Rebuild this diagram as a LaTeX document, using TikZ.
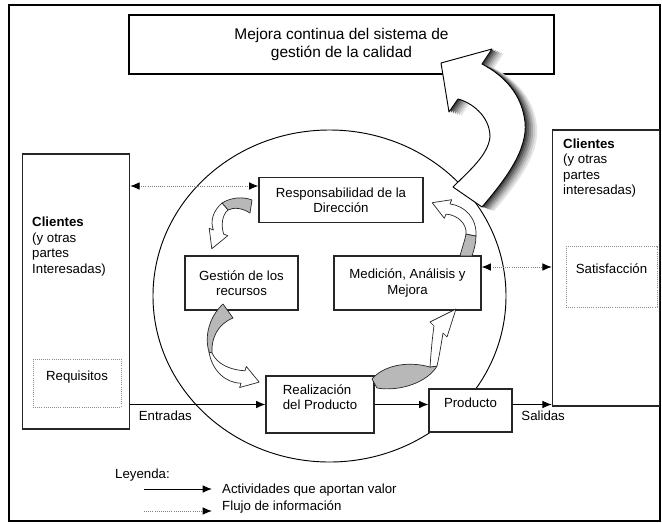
\documentclass[tikz,border=0pt]{standalone}
\usepackage{fontspec}
\setmainfont{Liberation Sans}
\usepackage{tikz}
\usetikzlibrary{arrows.meta}
\pgfdeclarelayer{edgelayer}
\pgfdeclarelayer{nodelayer}
\pgfsetlayers{edgelayer,nodelayer,main}
\tikzstyle{process}=[rectangle,fill=white,draw=black!85,line width=0.9pt,font=\fontsize{11.3}{13}\selectfont,align=center]
\tikzstyle{goal}=[rectangle,fill=white,draw=black,line width=2.4pt,font=\fontsize{13.2}{16}\selectfont,align=center,minimum width=12.75cm,minimum height=1.77cm]
\tikzstyle{client}=[rectangle,fill=white,draw=black!85,line width=0.9pt,minimum width=3.22cm]
\tikzstyle{infobox}=[rectangle,fill=white,draw=black!45,densely dotted,line width=0.8pt,font=\fontsize{11.3}{13}\selectfont,align=center]
\tikzstyle{plaintext}=[inner sep=0pt,align=left,font=\fontsize{11.3}{13.2}\selectfont]
\tikzstyle{edgelabel}=[font=\fontsize{11.3}{13}\selectfont,below,yshift=-2pt]
\tikzstyle{flow}=[-{Latex[length=8pt,width=6.5pt]},draw=black,line width=0.8pt]
\tikzstyle{info}=[{Latex[length=8pt,width=6.5pt,color=black]}-{Latex[length=8pt,width=6.5pt,color=black]},draw=black!50,densely dotted,line width=0.8pt]
\tikzstyle{infoone}=[-{Latex[length=8pt,width=6.5pt,color=black]},draw=black!50,densely dotted,line width=0.8pt]
\tikzstyle{twist}=[fill=black!28,draw=black!85,line width=0.6pt,line join=round]
\tikzstyle{band}=[fill=white,draw=black!85,line width=0.6pt,line join=round]
\tikzstyle{lift}=[fill=white,draw=black,line width=0.8pt,line join=round]

\begin{document}
\begin{tikzpicture}[x=0.03cm,y=-0.03cm]
	\useasboundingbox (0, 0) rectangle (662, 523);
	\begin{pgfonlayer}{nodelayer}
		\node [style=goal] (0) at (341.5, 44.5) {Mejora continua del sistema de\\gestión de la calidad};
		\node [style=client, minimum height=8.25cm] (1) at (76, 291.5) {};
		\node [style=infobox, minimum width=2.64cm, minimum height=1.44cm] (2) at (77, 383) {Requisitos\\~};
		\node [style=plaintext, anchor=west] (3) at (32, 246.5) {\textbf{Clientes}\\(y otras\\partes\\Interesadas)};
		\node [style=client, minimum height=8.28cm] (4) at (606, 268) {};
		\node [style=plaintext, anchor=west] (5) at (563, 168) {\textbf{Clientes}\\(y otras\\partes\\interesadas)};
		\node [style=infobox, minimum width=2.73cm, minimum height=1.83cm] (6) at (611.5, 276.5) {Satisfacción\\~};
		\node [style=process, minimum width=4.92cm, minimum height=1.35cm] (7) at (341, 200) {Responsabilidad de la\\Dirección};
		\node [style=process, minimum width=3.39cm, minimum height=1.62cm] (8) at (241.5, 283) {Gestión de los\\recursos};
		\node [style=process, minimum width=4.41cm, minimum height=1.62cm] (9) at (407.5, 283) {Medición, Análisis y\\Mejora};
		\node [style=process, minimum width=3.24cm, minimum height=1.71cm, align=left] (10) at (320, 404.5) {Realización\\del Producto\\~};
		\node [style=process, minimum width=2.49cm, minimum height=1.29cm] (11) at (470.5, 410.5) {Producto\\~};
		\node [style=plaintext, anchor=west] (12) at (115, 475) {Leyenda:};
		\node [style=plaintext, anchor=west] (15) at (222, 490) {Actividades que aportan valor};
		\node [style=plaintext, anchor=west] (18) at (222, 507) {Flujo de información};
		\coordinate (13) at (144, 489);
		\coordinate (14) at (212, 489);
		\coordinate (16) at (144, 511);
		\coordinate (17) at (212, 511);
		\coordinate (19) at ([yshift=0.42cm]7.west);
		\coordinate (20) at ([yshift=0.48cm]9.east);
	\end{pgfonlayer}
	\begin{pgfonlayer}{edgelayer}
		\draw [line width=1pt] (9, 5) rectangle (660, 521);
		\draw [line width=0.8pt] (329.5, 296) ellipse [x radius=5.295cm, y radius=4.98cm];
		\draw [style=flow] (1.east |- 10.west) to node[style=edgelabel, pos=0.26] {Entradas} (10.west);
		\draw [style=flow] (10.east) to (10.east -| 11.west);
		\draw [style=flow] (10.east -| 11.east) to node[style=edgelabel, pos=0.78] {Salidas} (10.east -| 4.west);
		\draw [style=info] (19 -| 1.east) to (19);
		\draw [style=info] (20) to (20 -| 4.west);
		\draw [style=flow] (13) to (14);
		\draw [style=infoone] (16) to (17);
	\end{pgfonlayer}
	% curved arrows of the cycle
	\draw [style=twist] (252, 200) .. controls (242, 196) and (230, 198) .. (222, 203) -- (228, 210) .. controls (234, 207) and (242, 208) .. (250, 213) -- cycle;
	\draw [style=band] (222, 203) .. controls (213, 211) and (210, 221) .. (213.4, 230) -- (209.2, 228.3) -- (211.8, 248.7) -- (227.8, 235.7) -- (223.6, 234) .. controls (221, 225) and (222, 215) .. (228, 210) -- cycle;
	\draw [style=twist] (223, 304) .. controls (210, 316) and (204, 335) .. (209, 352) -- (212, 353) .. controls (211, 338) and (218, 324) .. (233, 318) -- cycle;
	\draw [style=band] (209, 352) .. controls (212, 370) and (225, 383) .. (241, 383.2) -- (239.7, 387.5) -- (259.2, 382.1) -- (246.3, 366.5) -- (245, 370.8) .. controls (230, 370) and (217, 364) .. (212, 353) -- cycle;
	\draw [style=twist] (372, 379) .. controls (382, 367) and (405, 360) .. (430, 367) -- (437, 366) .. controls (428, 382) and (400, 392) .. (377, 388) -- cycle;
	\draw [style=band] (430, 367) .. controls (431, 353) and (432, 340) .. (434, 326) -- (430, 322) -- (456, 309) -- (447, 337) -- (443, 333) .. controls (441, 346) and (439, 357) .. (437, 366) -- cycle;
	\draw [style=twist] (460, 256) .. controls (462, 248) and (465, 240) .. (466, 234) -- (476, 236) .. controls (476, 243) and (474, 250) .. (472, 256) -- cycle;
	\draw [style=band] (466, 234) .. controls (467, 224) and (458, 215) .. (446, 214.1) -- (444.3, 218.3) -- (432.2, 202.7) -- (451.7, 199.7) -- (450, 203.9) .. controls (465, 206) and (477, 218) .. (476, 236) -- cycle;
	% big arrow up to the improvement box, with its shadow
	\foreach \d/\g in {12/10, 10/20, 8/32, 6/46, 4/60, 2/75}
		\fill [black!\g, shift={(\d, 0.35*\d)}] (453, 187) -- (482, 207) .. controls (505, 180) and (528, 150) .. (525, 122) .. controls (522, 95) and (505, 76) .. (482, 64) -- (492, 49) -- (441, 63) -- (449, 112) -- (458, 99) .. controls (470, 102) and (490, 115) .. (490, 137) .. controls (488, 155) and (470, 170) .. (453, 187) -- cycle;
	\draw [style=lift] (453, 187) -- (482, 207) .. controls (505, 180) and (528, 150) .. (525, 122) .. controls (522, 95) and (505, 76) .. (482, 64) -- (492, 49) -- (441, 63) -- (449, 112) -- (458, 99) .. controls (470, 102) and (490, 115) .. (490, 137) .. controls (488, 155) and (470, 170) .. (453, 187) -- cycle;
\end{tikzpicture}
\end{document}
